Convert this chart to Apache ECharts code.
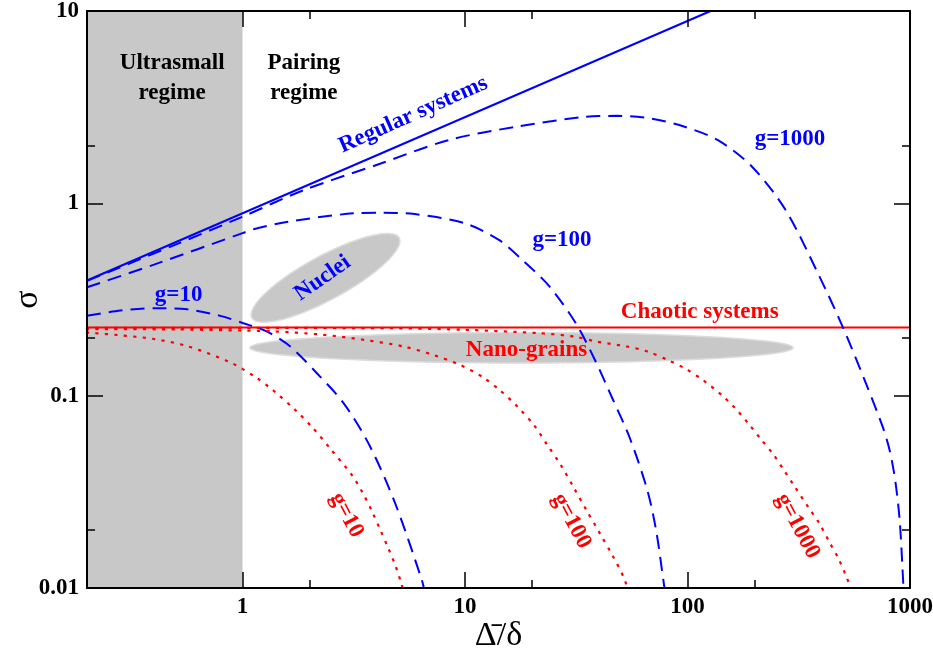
<!DOCTYPE html>
<html>
<head>
<meta charset="utf-8">
<script src="https://cdn.jsdelivr.net/npm/echarts@6/dist/echarts.min.js"></script>
<style>html,body{margin:0;padding:0;background:#fff}#c{width:933px;height:656px}</style>
</head>
<body>
<div id="c"></div>
<script>
// ---------- data ----------
const xRange = [0.2, 1000];
const yRange = [0.01, 10];
const xMajorTicks = [1, 10, 100, 1000];
const xMinorTicks = [2, 20, 200];
const yMajorTicks = [0.01, 0.1, 1, 10];
const yMinorTicks = [0.02, 0.2, 2];
const xTickLabels = ['1', '10', '100', '1000'];
const yTickLabels = ['0.01', '0.1', '1', '10'];

const ultrasmallBand = [0.2, 1];

const regularSystems = [[0.2, 0.397], [127, 10]];
const chaoticSystems = [[0.2, 0.226], [1000, 0.226]];

const regularG10 = [[0.2,0.26],[0.283,0.277],[0.40,0.285],[0.564,0.281],[0.795,0.26],[1.01,0.238],[1.29,0.215],[1.64,0.18],[2.17,0.13],[2.84,0.0918],[3.72,0.0552],[4.87,0.0273],[6.38,0.0111],[6.6,0.0095]];
const regularG100 = [[0.2,0.366],[0.4,0.48],[1,0.70],[1.12,0.733],[1.58,0.80],[3.15,0.887],[4.19,0.894],[5.93,0.88],[10,0.787],[14.2,0.645],[18.1,0.508],[24,0.369],[31.7,0.235],[38.5,0.152],[46.2,0.0955],[55.2,0.0597],[66.1,0.032],[72.5,0.0195],[78.6,0.0102],[80,0.009]];
const regularG1000 = [[0.2,0.395],[0.5,0.61],[1,0.852],[1.88,1.17],[4.18,1.61],[8.4,2.13],[16.9,2.50],[34,2.81],[48.2,2.85],[68.4,2.76],[97,2.50],[137,2.13],[195,1.55],[276,0.923],[392,0.416],[500,0.226],[626,0.12],[750,0.07],[810,0.052],[859,0.036],[900,0.022],[935,0.01],[940,0.009]];

const chaoticG10 = [[0.2,0.213],[0.283,0.206],[0.40,0.197],[0.564,0.181],[0.88,0.149],[1.155,0.124],[1.38,0.106],[1.73,0.084],[2.07,0.068],[2.48,0.053],[3.09,0.0389],[3.45,0.0316],[3.79,0.0255],[4.15,0.0202],[4.55,0.0158],[4.9,0.0128],[5.18,0.0105],[5.3,0.0095]];
const chaoticG100 = [[0.2,0.222],[0.5,0.221],[1,0.218],[1.39,0.216],[2.33,0.207],[3.52,0.195],[5.32,0.18],[7.3,0.162],[9.56,0.144],[12,0.125],[14.3,0.107],[17.1,0.0883],[20.5,0.0698],[23.5,0.0552],[26.9,0.0437],[30.8,0.0333],[35.2,0.0253],[40.3,0.0193],[46.1,0.0147],[51.6,0.0114],[54,0.0098]];
const chaoticG1000 = [[0.2,0.225],[1,0.225],[5,0.224],[10,0.22],[21.8,0.211],[30.8,0.203],[39.2,0.191],[53.5,0.18],[65.8,0.17],[82.8,0.152],[99.1,0.137],[119,0.119],[142,0.101],[163,0.0866],[186,0.0726],[213,0.0597],[244,0.0492],[273,0.0405],[305,0.0333],[349,0.0263],[391,0.0217],[437,0.0171],[479,0.0141],[523,0.0111],[545,0.0098]];

// ellipses: major-axis tip 1, major-axis tip 2, point on minor axis
const nucleiRegion = [1.103, 0.254, 5.06, 0.661, 2.12, 0.516];
const nanoGrainRegion = [1.08, 0.1775, 298, 0.1775, 17.9, 0.213];

const annotationText = ['Ultrasmall\nregime', 'Pairing\nregime', 'Regular systems', 'g=1000', 'g=100', 'g=10', 'Nuclei', 'Chaotic systems', 'Nano-grains', 'g=10', 'g=100', 'g=1000'];
const annotationX = [0.483, 1.888, 5.85, 289, 27.3, 0.516, 2.29, 113.5, 18.9, 2.94, 30.1, 312];
const annotationY = [4.47, 4.47, 2.89, 2.16, 0.645, 0.334, 0.408, 0.273, 0.173, 0.0239, 0.0223, 0.021];

// ---------- styles ----------
const BLUE = '#0000ff', RED = '#ff0000', BAND = '#c8c8c8';
const FONT = '"Liberation Serif", "Times New Roman", serif';
const annotationColor = ['#000', '#000', BLUE, BLUE, BLUE, BLUE, BLUE, RED, RED, RED, RED, RED];
const annotationRotate = [0, 0, 24, 0, 0, 0, 35, 0, 0, -62, -62, -62];

const chart = echarts.init(document.getElementById('c'), null, {renderer: 'canvas'});

function axisSet(range, major, minor, labels, pos, name, nameGap, nameRotate) {
  const base = {type: 'log', logBase: 10, min: range[0], max: range[1], gridIndex: 0, z: 10,
    splitLine: {show: false}, minorTick: {show: false}};
  const mainSide = Object.assign({}, base, {
    position: pos[0],
    axisLine: {show: true, onZero: false, lineStyle: {color: '#000', width: 2}},
    axisTick: {show: true, inside: true, length: 16, customValues: major, lineStyle: {color: '#000', width: 1.5}},
    axisLabel: {show: true, customValues: major, margin: 8, color: '#000', fontFamily: FONT, fontWeight: 'bold', fontSize: 23,
      formatter: function (v) { const i = major.findIndex(m => Math.abs(m - v) / m < 1e-6); return i >= 0 ? labels[i] : ''; }},
    name: name, nameLocation: 'middle', nameGap: nameGap, nameRotate: nameRotate, nameMoveOverlap: false,
    nameTextStyle: {fontFamily: FONT, fontSize: 34, color: '#000'}
  });
  const mainMinor = Object.assign({}, base, {
    position: pos[0],
    axisLine: {show: false, onZero: false},
    axisTick: {show: true, inside: true, length: 8, customValues: minor, lineStyle: {color: '#000', width: 1.5}},
    axisLabel: {show: false}
  });
  const oppSide = Object.assign({}, base, {
    position: pos[1],
    axisLine: {show: true, onZero: false, lineStyle: {color: '#000', width: 2}},
    axisTick: {show: true, inside: true, length: 16, customValues: major, lineStyle: {color: '#000', width: 1.5}},
    axisLabel: {show: false}
  });
  const oppMinor = Object.assign({}, base, {
    position: pos[1],
    axisLine: {show: false, onZero: false},
    axisTick: {show: true, inside: true, length: 8, customValues: minor, lineStyle: {color: '#000', width: 1.5}},
    axisLabel: {show: false}
  });
  return [mainSide, mainMinor, oppSide, oppMinor];
}

function lineSeries(data, color, type, width, dash) {
  return {type: 'line', data: data, xAxisIndex: 0, yAxisIndex: 0, showSymbol: false, symbol: 'none',
    smooth: 0.3, clip: true, z: 3, silent: true,
    lineStyle: {color: color, width: width, type: dash || type, cap: type === 'dotted' ? 'square' : 'butt'}};
}

function renderEllipse(params, api) {
  const p1 = api.coord([api.value(0), api.value(1)]);
  const p2 = api.coord([api.value(2), api.value(3)]);
  const p3 = api.coord([api.value(4), api.value(5)]);
  const cx = (p1[0] + p2[0]) / 2, cy = (p1[1] + p2[1]) / 2;
  const dx = p2[0] - p1[0], dy = p2[1] - p1[1];
  const a = Math.hypot(dx, dy) / 2;
  const ux = dx / (2 * a), uy = dy / (2 * a);
  const b = Math.abs((p3[0] - cx) * (-uy) + (p3[1] - cy) * ux);
  const pts = [];
  for (let i = 0; i < 120; i++) {
    const t = i / 120 * 2 * Math.PI;
    const c = Math.cos(t) * a, s = Math.sin(t) * b;
    pts.push([cx + c * ux - s * uy, cy + c * uy + s * ux]);
  }
  return {type: 'polygon', shape: {points: pts}, style: {fill: BAND, stroke: '#dcdcdc', lineWidth: 1.5}};
}

const annotationData = annotationText.map((t, i) => ({
  value: [annotationX[i], annotationY[i]],
  label: {formatter: t, color: annotationColor[i], rotate: annotationRotate[i]}
}));

const option = {
  backgroundColor: '#fff',
  animation: false,
  grid: {left: 87, right: 23, top: 11, bottom: 68, containLabel: false, outerBoundsMode: 'none'},
  xAxis: axisSet(xRange, xMajorTicks, xMinorTicks, xTickLabels, ['bottom', 'top'], 'Δ\u0304/δ', 31, 0),
  yAxis: axisSet(yRange, yMajorTicks, yMinorTicks, yTickLabels, ['left', 'right'], 'σ', 42, 90),
  series: [
    {type: 'line', data: [], xAxisIndex: 0, yAxisIndex: 0, z: 1, silent: true,
      markArea: {silent: true, itemStyle: {color: BAND}, data: [[{xAxis: ultrasmallBand[0]}, {xAxis: ultrasmallBand[1]}]]}},
    {type: 'custom', xAxisIndex: 0, yAxisIndex: 0, z: 2, silent: true, renderItem: renderEllipse,
      encode: {x: [0, 2, 4], y: [1, 3, 5]}, data: [nucleiRegion, nanoGrainRegion]},
    lineSeries(regularSystems, BLUE, 'solid', 2),
    lineSeries(chaoticSystems, RED, 'solid', 2),
    lineSeries(regularG10, BLUE, 'dashed', 2, [14, 8]),
    lineSeries(regularG100, BLUE, 'dashed', 2, [14, 8]),
    lineSeries(regularG1000, BLUE, 'dashed', 2, [14, 8]),
    lineSeries(chaoticG10, RED, 'dotted', 2.2, [1, 8.5]),
    lineSeries(chaoticG100, RED, 'dotted', 2.2, [1, 8.5]),
    lineSeries(chaoticG1000, RED, 'dotted', 2.2, [1, 8.5]),
    {type: 'scatter', xAxisIndex: 0, yAxisIndex: 0, z: 5, silent: true, symbolSize: 1,
      itemStyle: {color: 'rgba(0,0,0,0)', opacity: 1}, data: annotationData,
      labelLayout: {hideOverlap: false},
      label: {show: true, position: 'inside', align: 'center', verticalAlign: 'middle',
        fontFamily: FONT, fontWeight: 'bold', fontSize: 23, lineHeight: 30}}
  ]
};
chart.setOption(option);
</script>
</body>
</html>
